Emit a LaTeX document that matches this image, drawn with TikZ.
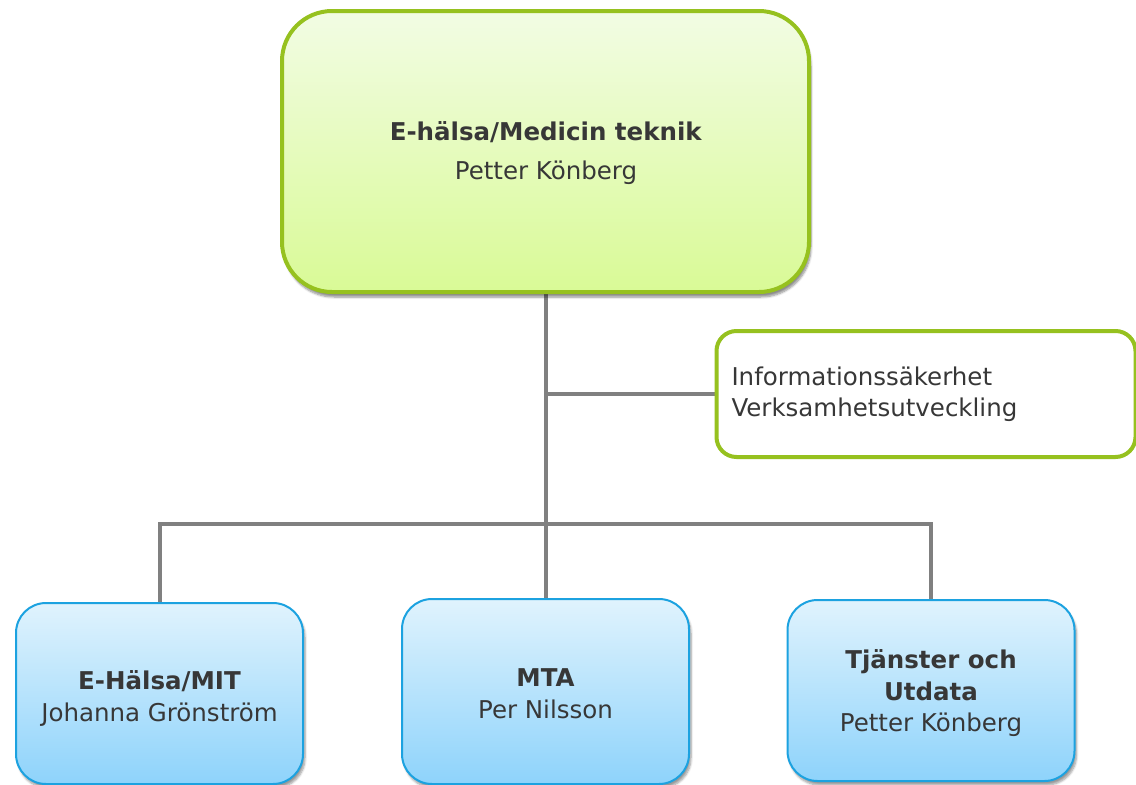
\documentclass[tikz,border=0pt]{standalone}
\usepackage{fontspec}
\setmainfont{DejaVu Sans}
\usetikzlibrary{backgrounds,shadows.blur}
\definecolor{gborder}{HTML}{96C11F}
\definecolor{gtop}{HTML}{F2FCE4}
\definecolor{gbot}{HTML}{D9FA96}
\definecolor{bborder}{HTML}{1CA2E0}
\definecolor{btop}{HTML}{E0F3FD}
\definecolor{bbot}{HTML}{8ED3FB}
\definecolor{txt}{HTML}{373737}
\definecolor{conn}{HTML}{808080}
\tikzset{
  every node/.style={text=txt, font=\fontsize{24.5}{31.5}\selectfont},
  greenbox/.style={draw=gborder, line width=4pt, rounded corners=50pt, top color=gtop, bottom color=gbot,
    blur shadow={shadow xshift=2pt, shadow yshift=-5pt, shadow opacity=45, shadow blur steps=6}},
  infobox/.style={draw=gborder, line width=4pt, rounded corners=20pt, fill=white, align=left, inner xsep=15pt},
  bluebox/.style={draw=bborder, line width=2pt, rounded corners=30pt, top color=btop, bottom color=bbot,
    minimum width=287pt, blur shadow={shadow xshift=2pt, shadow yshift=-4pt, shadow opacity=40, shadow blur steps=6}},
  boxtext/.style={align=center, inner sep=0pt},
  connector/.style={draw=conn, line width=4pt}
}
\begin{document}
\begin{tikzpicture}[x=1pt,y=-1pt]
\useasboundingbox (0,0) rectangle (1136,785);
\node[greenbox, minimum width=527pt, minimum height=281pt] (top) at (545.5,151.5) {};
\node[boxtext, font=\fontsize{24.5}{39}\selectfont] (toptext) at (546,153)
  {\textbf{E-hälsa/Medicin teknik}\\Petter Könberg};
\node[infobox, minimum width=419pt, text width=389pt, minimum height=126pt] (info) at (926,394)
  {Informationssäkerhet\\Verksamhetsutveckling};
\node[bluebox, minimum height=181pt] (left) at (159.5,693.5) {};
\node[boxtext] (lefttext) at (159.5,698.5) {\textbf{E-Hälsa/MIT}\\Johanna Grönström};
\node[bluebox, minimum height=185pt] (mid) at (545.5,691.5) {};
\node[boxtext] (midtext) at (545.5,693.5) {\textbf{MTA}\\Per Nilsson};
\node[bluebox, minimum height=181pt] (right) at (931,690.5) {};
\node[boxtext] (righttext) at (931,693.5) {\textbf{Tjänster och}\\\textbf{Utdata}\\Petter Könberg};
\coordinate (bus) at (545.5,524);
\begin{pgfonlayer}{background}
\draw[connector] (top.south) -- (mid.north);
\draw[connector] (top.south |- info.west) -- (info.west);
\draw[connector] (left.north) -- (left.north |- bus) -- (right.north |- bus) -- (right.north);
\end{pgfonlayer}
\end{tikzpicture}
\end{document}
